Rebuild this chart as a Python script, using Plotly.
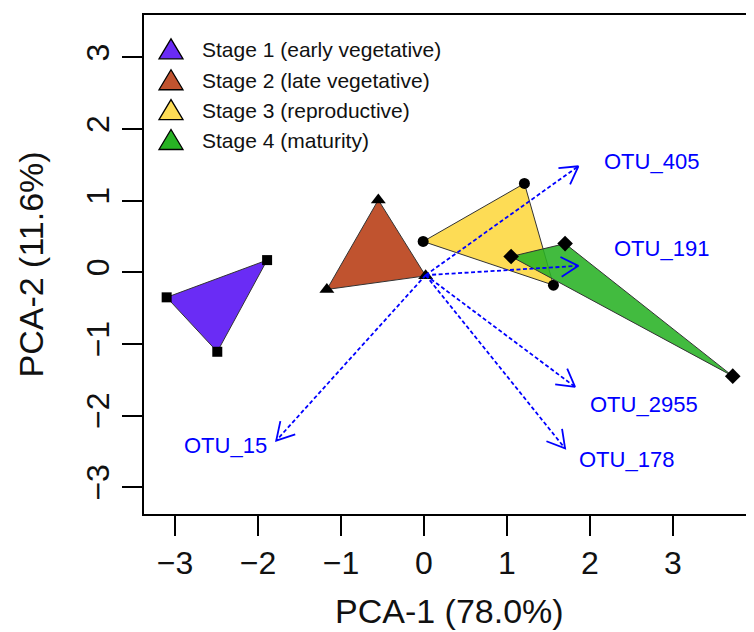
import numpy as np
import plotly.graph_objects as go

# stage polygons (PCA scores)
stages = ['Stage 1 (early vegetative)', 'Stage 2 (late vegetative)',
          'Stage 3 (reproductive)', 'Stage 4 (maturity)']
stage_colors = ['#6A2CF5', '#C0532F', '#FDDC55', 'rgba(40,178,36,0.88)']
legend_colors = ['#6A2CF5', '#C0532F', '#FDDC55', '#28B224']
stage_symbols = ['square', 'triangle-up', 'circle', 'diamond']
stage_sizes = [10, 13, 11, 12]

s1_x = [-1.89, -3.10, -2.49]
s1_y = [0.17, -0.35, -1.11]
s2_x = [-0.55, -1.17, 0.02]
s2_y = [1.01, -0.24, -0.05]
s3_x = [1.21, -0.01, 1.56]
s3_y = [1.24, 0.43, -0.18]
s4_x = [1.05, 1.70, 3.72]
s4_y = [0.22, 0.40, -1.45]
stage_x = [s1_x, s2_x, s3_x, s4_x]
stage_y = [s1_y, s2_y, s3_y, s4_y]

# loadings arrows
otu_names = ['OTU_405', 'OTU_191', 'OTU_2955', 'OTU_178', 'OTU_15']
otu_x = [1.86, 1.86, 1.82, 1.70, -1.78]
otu_y = [1.48, 0.09, -1.60, -2.46, -2.35]
label_x = [2.74, 2.86, 2.65, 2.44, -2.39]
label_y = [1.55, 0.33, -1.84, -2.62, -2.42]
arrow_x0, arrow_y0 = 0.02, -0.04

x_ticks = [-3, -2, -1, 0, 1, 2, 3]
y_ticks = [-3, -2, -1, 0, 1, 2, 3]
x_range = [-3.373, 3.988]
y_range = [-3.375, 3.592]

W, H = 754, 632
M = dict(l=136, r=7, t=5, b=126)
plot_w = W - M['l'] - M['r']
plot_h = H - M['t'] - M['b']
sx = plot_w / (x_range[1] - x_range[0])
sy = plot_h / (y_range[1] - y_range[0])

FONT = 'Liberation Sans, Arial, sans-serif'
BLUE = '#0000FF'

fig = go.Figure()

for i in range(4):
    xs = stage_x[i] + [stage_x[i][0]]
    ys = stage_y[i] + [stage_y[i][0]]
    fig.add_trace(go.Scatter(
        x=xs, y=ys, mode='lines', fill='toself',
        fillcolor=stage_colors[i],
        line=dict(color='#333333', width=1),
        hoverinfo='skip', showlegend=False
    ))
    fig.add_trace(go.Scatter(
        x=stage_x[i], y=stage_y[i], mode='markers',
        marker=dict(symbol=stage_symbols[i], size=stage_sizes[i], color='black',
                    line=dict(width=0)),
        showlegend=False
    ))

# arrows: dashed shafts + open heads
head_len = 20
head_ang = np.deg2rad(30)
for tx, ty in zip(otu_x, otu_y):
    fig.add_trace(go.Scatter(
        x=[arrow_x0, tx], y=[arrow_y0, ty], mode='lines',
        line=dict(color=BLUE, width=1.8, dash='4px,2.5px'),
        hoverinfo='skip', showlegend=False
    ))
    dx = (tx - arrow_x0) * sx
    dy = (ty - arrow_y0) * sy
    n = np.hypot(dx, dy)
    ux, uy = dx / n, dy / n
    hx, hy = [], []
    for a in (head_ang, -head_ang):
        rx = ux * np.cos(a) - uy * np.sin(a)
        ry = ux * np.sin(a) + uy * np.cos(a)
        hx.append(tx - head_len * rx / sx)
        hy.append(ty - head_len * ry / sy)
    fig.add_trace(go.Scatter(
        x=[hx[0], tx, hx[1]], y=[hy[0], ty, hy[1]], mode='lines',
        line=dict(color=BLUE, width=1.8),
        hoverinfo='skip', showlegend=False
    ))

for name, lx, ly in zip(otu_names, label_x, label_y):
    fig.add_annotation(x=lx, y=ly, text=name, showarrow=False,
                       font=dict(family=FONT, size=22, color=BLUE),
                       xanchor='center', yanchor='middle')

# legend (R style, no box)
leg_x = (163 - M['l']) / plot_w
leg_tx = (192 - M['l']) / plot_w
leg_rows = [40, 71, 101, 131]
for i, name in enumerate(stages):
    py = (H - M['b'] - leg_rows[i]) / plot_h
    fig.add_shape(type='path', xref='paper', yref='paper',
                  xsizemode='pixel', ysizemode='pixel',
                  xanchor=leg_x, yanchor=py,
                  path='M -12,-9 L 12,-9 L 0,11 Z',
                  fillcolor=legend_colors[i], line=dict(color='black', width=1.3))
    fig.add_annotation(x=leg_tx, y=py, xref='paper', yref='paper',
                       text=name, showarrow=False, xanchor='left', yanchor='middle',
                       font=dict(family=FONT, size=21, color='#111111'))

axis_common = dict(
    showgrid=False, zeroline=False, showline=True, mirror=True,
    linecolor='black', linewidth=2,
    ticks='outside', ticklen=20, tickwidth=1.6, tickcolor='black',
    tickfont=dict(family=FONT, size=32, color='#111111'),
)
fig.update_xaxes(range=x_range, tickvals=x_ticks, ticklabelstandoff=0, **axis_common)
fig.update_yaxes(range=y_range, tickvals=y_ticks, tickangle=-90, ticklabelstandoff=0,
                 **axis_common)

fig.add_annotation(x=0.5, y=(H - M['b'] - 603) / plot_h, xref='paper', yref='paper',
                   text='PCA-1 (78.0%)', showarrow=False, yanchor='middle',
                   font=dict(family=FONT, size=34, color='#111111'))
fig.add_annotation(x=(22 - M['l']) / plot_w, y=0.5, xref='paper', yref='paper',
                   text='PCA-2 (11.6%)', showarrow=False, textangle=-90,
                   xanchor='center', yanchor='middle',
                   font=dict(family=FONT, size=34, color='#111111'))

fig.update_layout(
    width=W, height=H, margin=M,
    paper_bgcolor='white', plot_bgcolor='white',
    showlegend=False
)

fig.write_html('out.html')
